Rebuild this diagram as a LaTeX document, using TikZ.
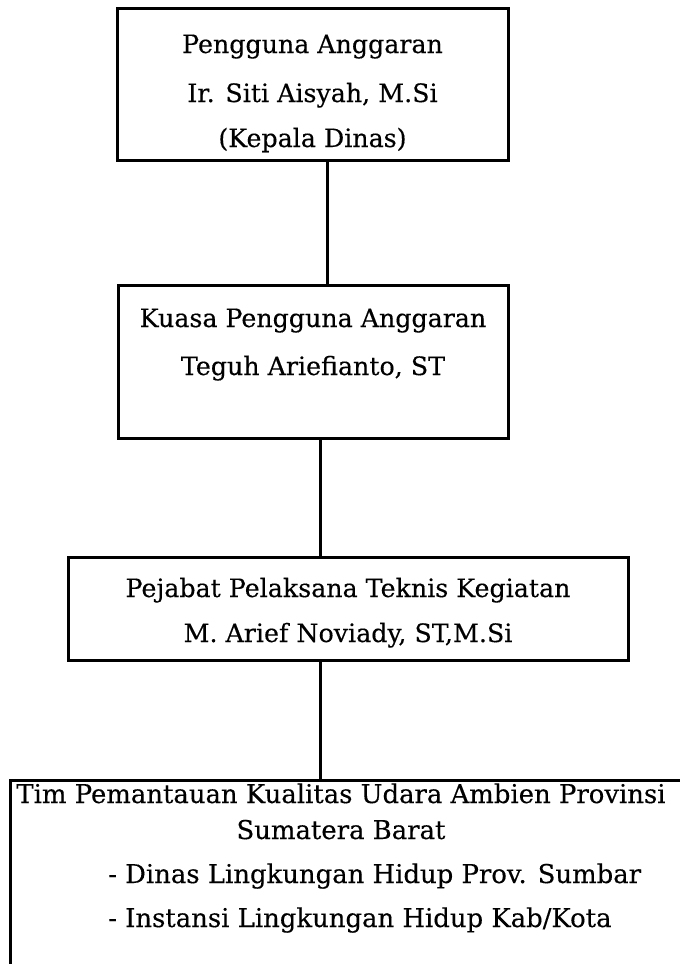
\documentclass[tikz,border=0pt]{standalone}
\usepackage{fontspec}
\setmainfont{DejaVu Serif}[FakeBold=0.3]
\begin{document}
\begin{tikzpicture}[x=1pt,y=-1pt,
  box/.style={draw=black, line width=3pt, rectangle, inner sep=0pt},
  lbl/.style={anchor=base, inner sep=0pt, font=\fontsize{25.3}{30}\selectfont},
  lblb/.style={anchor=base, inner sep=0pt, font=\fontsize{25.9}{30}\selectfont},
  lbll/.style={anchor=base west, inner sep=0pt, font=\fontsize{25.9}{30}\selectfont},
  conn/.style={line width=3pt}]
\useasboundingbox (0,0) rectangle (680,964);
\clip (0,0) rectangle (680,964);
% boxes
\node[box, minimum width=391pt, minimum height=152pt] (b1) at (312.5,84) {};
\node[box, minimum width=390pt, minimum height=153pt] (b2) at (313,361.5) {};
\node[box, minimum width=560pt, minimum height=103pt] (b3) at (348,608.5) {};
\node[box, minimum width=750pt, minimum height=260pt] (b4) at (385,910) {};
% texts
\node[lbl] (t1a) at (312.5,53) {Pengguna Anggaran};
\node[lbl] (t1b) at (312.5,102) {Ir. Siti Aisyah, M.Si};
\node[lbl] (t1c) at (312.5,147) {(Kepala Dinas)};
\node[lbl] (t2a) at (313,327) {Kuasa Pengguna Anggaran};
\node[lbl] (t2b) at (313,375) {Teguh Ariefianto, ST};
\node[lbl] (t3a) at (348,597) {Pejabat Pelaksana Teknis Kegiatan};
\node[lbl] (t3b) at (348,642) {M. Arief Noviady, ST,M.Si};
\node[lblb] (t4a) at (341,803) {Tim Pemantauan Kualitas Udara Ambien Provinsi};
\node[lblb] (t4b) at (341,839) {Sumatera Barat};
\node[lbll] (t4c) at (108,883) {- Dinas Lingkungan Hidup Prov. Sumbar};
\node[lbll] (t4d) at (108,927) {- Instansi Lingkungan Hidup Kab/Kota};
% connectors
\draw[conn] ([xshift=14.5pt]b1.south) -- ([xshift=14pt]b2.north);
\draw[conn] ([xshift=7pt]b2.south) -- ([xshift=-28pt]b3.north);
\draw[conn] ([xshift=-28pt]b3.south) -- ([xshift=-65pt]b4.north);
\end{tikzpicture}
\end{document}
